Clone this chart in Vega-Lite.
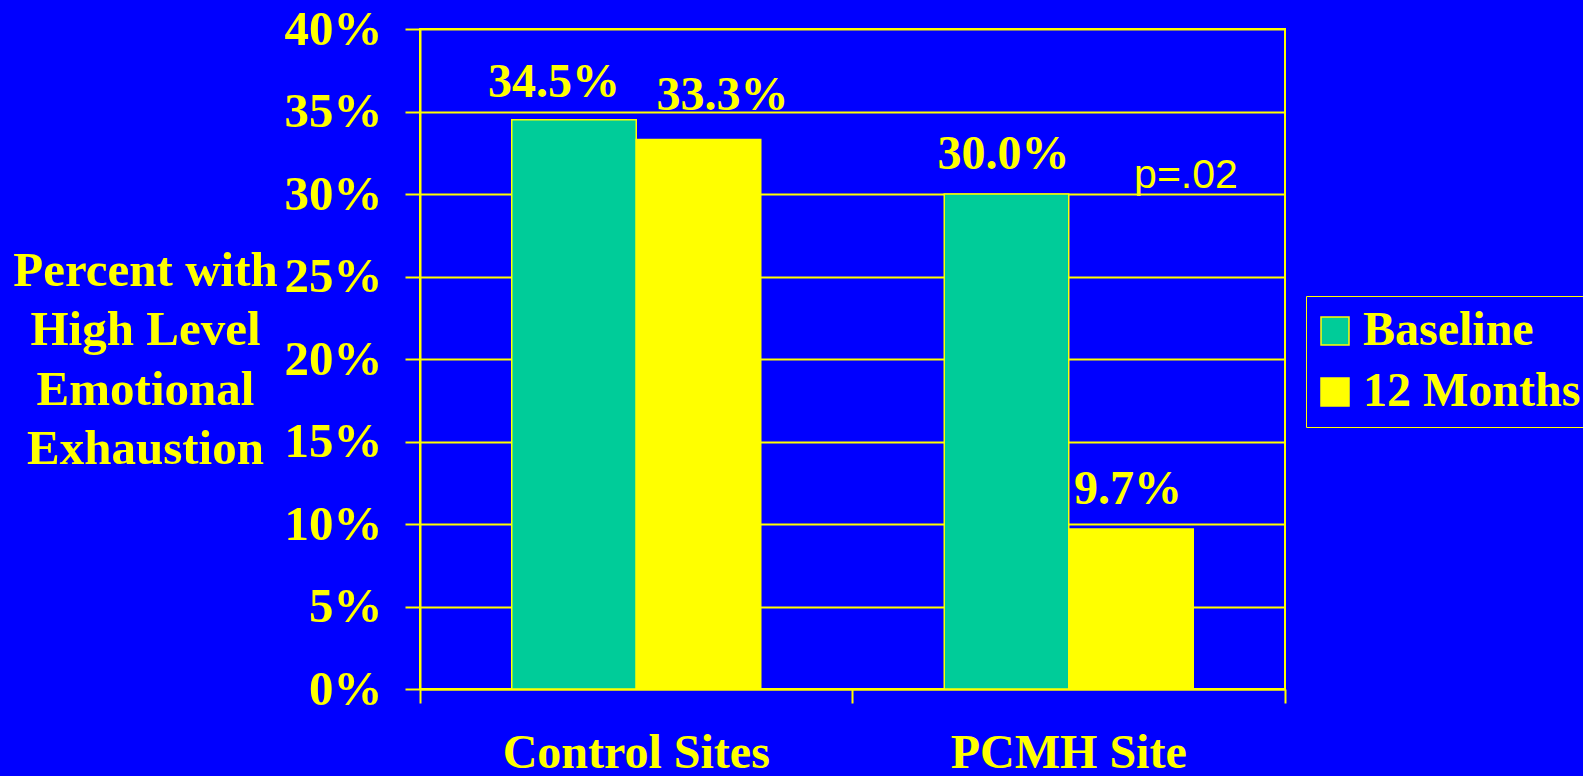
{
  "$schema": "https://vega.github.io/schema/vega-lite/v6.json",
  "autosize": {"type": "none"},
  "padding": {"left": 420, "top": 29, "right": 298, "bottom": 87},
  "width": 865,
  "height": 660,
  "background": "#0000ff",
  "config": {"view": {"stroke": "#ffff00", "strokeWidth": 2}, "font": "Liberation Serif"},
  "data": {"values": [
    {"site": "Control Sites", "period": "Baseline", "value": 34.5, "label": "34.5%"},
    {"site": "Control Sites", "period": "12 Months", "value": 33.3, "label": "33.3%"},
    {"site": "PCMH Site", "period": "Baseline", "value": 30.0, "label": "30.0%"},
    {"site": "PCMH Site", "period": "12 Months", "value": 9.7, "label": "9.7%"}
  ]},
  "encoding": {
    "x": {
      "field": "site", "type": "nominal", "sort": ["Control Sites", "PCMH Site"],
      "scale": {"paddingInner": 0, "paddingOuter": 0},
      "axis": {
        "title": null, "labelAngle": 0, "labelFont": "Liberation Serif", "labelFontWeight": "bold",
        "labelFontSize": 48, "labelColor": "#ffff00", "labelBaseline": "alphabetic", "labelPadding": 64,
        "labelLimit": 0, "tickSize": 14, "tickColor": "#ffff00", "tickWidth": 2,
        "domainColor": "#ffff00", "domainWidth": 2, "bandPosition": 1, "tickExtra": true
      }
    },
    "xOffset": {"field": "period", "type": "nominal", "sort": ["Baseline", "12 Months"], "scale": {"paddingInner": 0, "paddingOuter": 0.737}},
    "y": {
      "field": "value", "type": "quantitative", "scale": {"domain": [0, 40], "nice": false},
      "axis": {
        "values": [0, 5, 10, 15, 20, 25, 30, 35, 40], "labelExpr": "datum.value + '%'",
        "labelFont": "Liberation Serif", "labelFontWeight": "bold", "labelFontSize": 49, "labelColor": "#ffff00",
        "labelPadding": 23, "tickSize": 15, "tickColor": "#ffff00", "tickWidth": 2,
        "domainColor": "#ffff00", "domainWidth": 2, "grid": true, "gridColor": "#ffff00", "gridWidth": 2,
        "title": ["Percent with", "High Level", "Emotional", "Exhaustion"],
        "titleFont": "Liberation Serif", "titleFontSize": 49, "titleFontWeight": "bold", "titleColor": "#ffff00",
        "titleAngle": 0, "titleAlign": "center", "titleBaseline": "alphabetic", "titleX": -275, "titleY": 256,
        "titleLineHeight": 59.5
      }
    }
  },
  "layer": [
    {
      "mark": {"type": "bar", "stroke": "#ffff00", "strokeWidth": 1.5},
      "encoding": {
        "color": {
          "field": "period", "type": "nominal", "sort": ["Baseline", "12 Months"],
          "scale": {"domain": ["Baseline", "12 Months"], "range": ["#00cc99", "#ffff00"]},
          "legend": {
            "title": null, "orient": "none", "legendX": 886, "legendY": 267,
            "strokeColor": "#ffff00", "padding": 11,
            "symbolType": "square", "symbolSize": 784, "symbolStrokeColor": "#ffff00", "symbolStrokeWidth": 1.5,
            "symbolOffset": -6,
            "symbolOpacity": 1, "labelFont": "Liberation Serif", "labelFontWeight": "bold", "labelFontSize": 48,
            "labelColor": "#ffff00", "labelOffset": 4, "rowPadding": 13, "labelLimit": 400
          }
        }
      }
    },
    {
      "transform": [{"filter": "datum.label == '34.5%'"}],
      "mark": {"type": "text", "font": "Liberation Serif", "fontWeight": "bold", "fontSize": 48, "color": "#ffff00", "align": "center", "baseline": "alphabetic", "dx": -20, "dy": -23},
      "encoding": {"text": {"field": "label"}}
    },
    {
      "transform": [{"filter": "datum.label == '33.3%'"}],
      "mark": {"type": "text", "font": "Liberation Serif", "fontWeight": "bold", "fontSize": 48, "color": "#ffff00", "align": "center", "baseline": "alphabetic", "dx": 24, "dy": -30},
      "encoding": {"text": {"field": "label"}}
    },
    {
      "transform": [{"filter": "datum.site == 'PCMH Site'"}],
      "mark": {"type": "text", "font": "Liberation Serif", "fontWeight": "bold", "fontSize": 48, "color": "#ffff00", "align": "center", "baseline": "alphabetic", "dx": -3, "dy": -25},
      "encoding": {"text": {"field": "label"}}
    },
    {
      "data": {"values": [{"site": "PCMH Site", "period": "12 Months", "value": 30, "note": "p=.02"}]},
      "mark": {"type": "text", "font": "Liberation Sans", "fontSize": 41, "color": "#ffff00", "align": "center", "baseline": "alphabetic", "dx": 55, "dy": -6},
      "encoding": {"text": {"field": "note"}}
    }
  ]
}
